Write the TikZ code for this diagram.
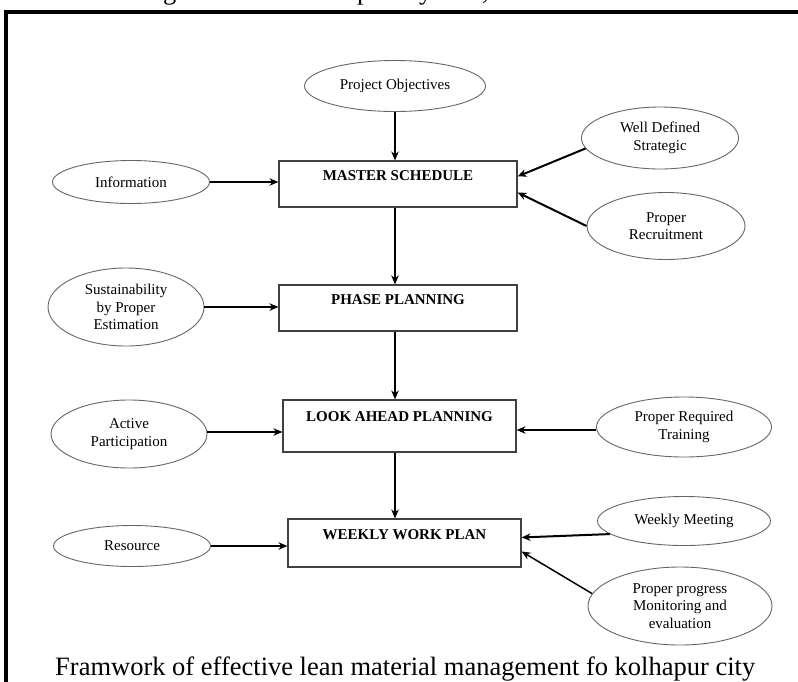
\documentclass[tikz,border=0pt]{standalone}
\usepackage{fontspec}
\setmainfont{Liberation Serif}
\usetikzlibrary{shapes.geometric,arrows.meta,calc}
\begin{document}
\begin{tikzpicture}[x=1pt,y=-1pt,
  ell/.style={ellipse, draw=black!60, line width=0.9pt, inner sep=0pt, align=center,
    font=\fontsize{15}{17.5}\selectfont},
  blk/.style={rectangle, draw=black!75, line width=1.1pt, inner sep=0pt, align=center,
    font=\bfseries\fontsize{15}{18}\selectfont},
  arr/.style={-{Stealth[length=9pt,width=7.5pt]}, line width=2pt},
  thinarr/.style={-{Stealth[length=9pt,width=7.5pt]}, line width=1.5pt},
  cut/.style={anchor=base west, inner sep=0pt, font=\fontsize{26.5}{30}\selectfont}]
\useasboundingbox (0,0) rectangle (798,681);
% cut-off line of text above the frame (only its descenders show)
\begin{scope}
\clip (0,0) rectangle (798,8);
\node[cut] (cutg) at (163,-1) {g};
\node[cut] (cutp) at (357,-1) {p};
\node[cut] (cuty) at (419,-1) {y};
\node[cut] (cutc) at (482,-1) {,};
\end{scope}
% frame
\draw[line width=3.5pt] (6,690) -- (6,12) -- (805,12);

% central boxes
\node[blk, minimum width=238pt, text height=19pt, text depth=27pt] (ms) at (398,184) {MASTER SCHEDULE};
\node[blk, minimum width=238pt, text height=19pt, text depth=27pt] (pp) at (398,308) {PHASE PLANNING};
\node[blk, minimum width=233pt, text height=21pt, text depth=31pt] (la) at (399.5,426) {LOOK AHEAD PLANNING};
\node[blk, minimum width=233pt, text height=20pt, text depth=28pt] (ww) at (404.5,543) {WEEKLY WORK PLAN};

% ellipses
\node[ell, minimum width=181pt, minimum height=51pt] (po) at (395,86) {Project Objectives};
\node[ell, minimum width=157pt, minimum height=62pt] (wds) at (660,138) {Well Defined\\Strategic};
\node[ell, minimum width=158pt, minimum height=67pt] (pr) at (666,226) {Proper\\Recruitment};
\node[ell, minimum width=157pt, minimum height=43pt] (info) at (131,182) {Information};
\node[ell, minimum width=156pt, minimum height=78pt] (sust) at (126,307) {Sustainability\\by Proper\\Estimation};
\node[ell, minimum width=156pt, minimum height=68pt] (ap) at (129,434) {Active\\Participation};
\node[ell, minimum width=175pt, minimum height=60pt] (prt) at (684,427) {Proper Required\\Training};
\node[ell, minimum width=157pt, minimum height=41pt] (res) at (132,546) {Resource};
\node[ell, minimum width=173pt, minimum height=49pt] (wm) at (684,521) {Weekly Meeting};
\node[ell, minimum width=184pt, minimum height=78pt] (ppm) at (680,606) {Proper progress\\Monitoring and\\evaluation};

% vertical flow
\draw[arr] (po.south) -- (po.south |- ms.north);
\draw[arr] (po.south |- ms.south) -- (po.south |- pp.north);
\draw[arr] (po.south |- pp.south) -- (po.south |- la.north);
\draw[thinarr] (po.south |- la.south) -- (po.south |- ww.north);

% left inputs
\draw[arr, line width=2.4pt] (info.east) -- (info.east -| ms.west);
\draw[thinarr] (sust.east) -- (sust.east -| pp.west);
\draw[arr] ($(ap.east)+(0,-2)$) -- ($(ap.east -| la.west)+(0,-2)$);
\draw[arr, line width=2.4pt] (res.east) -- (res.east -| ww.west);

% right inputs
\draw[arr] (wds.188) -- ($(ms.north east)+(0,16)$);
\draw[arr] (pr.west) -- ($(ms.north east)+(0,32)$);
\draw[thinarr] ($(prt.west)+(0,3)$) -- ($(prt.west -| la.east)+(0,3)$);
\draw[arr] (wm.190) -- ($(ww.north east)+(0,19)$);
\draw[thinarr] (ppm.172) -- ($(ww.north east)+(0,33)$);

% caption
\node[anchor=base west, inner sep=0pt, font=\fontsize{26.5}{30}\selectfont] (cap) at (55,675)
  {Framwork of effective lean material management fo kolhapur city};
\end{tikzpicture}
\end{document}
